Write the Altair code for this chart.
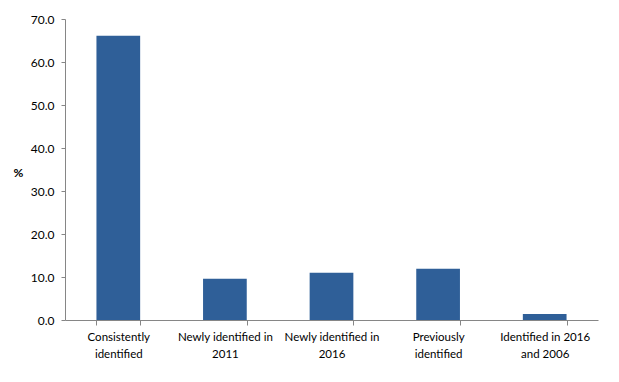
import altair as alt
import pandas as pd

categories = [
    "Consistently\nidentified",
    "Newly identified in\n2011",
    "Newly identified in\n2016",
    "Previously\nidentified",
    "Identified in 2016\nand 2006",
]
values = [66.1, 9.6, 11.0, 11.9, 1.4]
y_ticks = [0, 10, 20, 30, 40, 50, 60, 70]

df = pd.DataFrame({"category": categories, "value": values})

FONT = "Lato"
AXIS_GRAY = "#868686"

chart = (
    alt.Chart(df)
    .mark_bar(color="#2F5F98")
    .encode(
        x=alt.X(
            "category:N",
            sort=categories,
            scale=alt.Scale(paddingInner=0.59, paddingOuter=0.295),
            axis=alt.Axis(
                title=None,
                labelAngle=0,
                labelExpr="split(datum.label, '\\n')",
                labelFont=FONT,
                labelFontSize=11.5,
                labelColor="#000000",
                labelLineHeight=17,
                labelPadding=6,
                labelBaseline="top",
                tickBand="extent",
                tickSize=5,
                tickColor=AXIS_GRAY,
                domainColor=AXIS_GRAY,
                labelLimit=200,
            ),
        ),
        y=alt.Y(
            "value:Q",
            scale=alt.Scale(domain=[0, 70], nice=False),
            axis=alt.Axis(
                title="%",
                titleAngle=0,
                titleX=-47,
                titleY=153,
                titleAlign="center",
                titleBaseline="middle",
                titleFont=FONT,
                titleFontSize=12,
                titleFontWeight="bold",
                titleColor="#000000",
                values=y_ticks,
                format=".1f",
                grid=False,
                labelFont=FONT,
                labelFontSize=12,
                labelColor="#000000",
                labelPadding=7,
                tickSize=4,
                tickColor=AXIS_GRAY,
                domainColor=AXIS_GRAY,
            ),
        ),
    )
    .properties(
        width=533,
        height=301,
        autosize=alt.AutoSizeParams(type="none"),
        padding={"left": 57, "top": 11, "right": 13, "bottom": 54},
        background="white",
    )
    .configure_view(stroke=None)
)

chart.save("out.html", embed_options={"renderer": "svg", "actions": False})
